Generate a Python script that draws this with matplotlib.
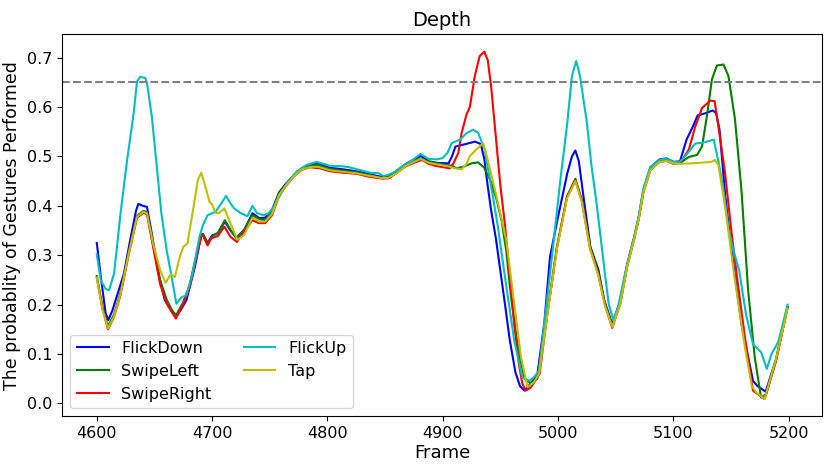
import matplotlib
matplotlib.use("Agg")
import matplotlib.pyplot as plt

# frame / probability samples, one pair of lists per gesture
flickdown_frame = [4600, 4603.5, 4607.7, 4610, 4613.5, 4619, 4623.5, 4629, 4634, 4636, 4640, 4643.5,
                   4647.7, 4653.5, 4659, 4665, 4668.6, 4673.5, 4677.7, 4685, 4690.6, 4692, 4696, 4700,
                   4705, 4711, 4716, 4721, 4728, 4735, 4741, 4746, 4752, 4758, 4764, 4771, 4778, 4786,
                   4791, 4802, 4813, 4825, 4833, 4842, 4849, 4853, 4860, 4868, 4876, 4881, 4888, 4895,
                   4905, 4908, 4911, 4918, 4928, 4933, 4936, 4939, 4942, 4946, 4954, 4958, 4963, 4967,
                   4971, 4976, 4982, 4988, 4993, 5000, 5008, 5012, 5015, 5018, 5022, 5028, 5035, 5040,
                   5047, 5054, 5060, 5066, 5070, 5074, 5080, 5088, 5094, 5100, 5105.7, 5111.4, 5117,
                   5121, 5128.6, 5134, 5137, 5140, 5145, 5150, 5159, 5169, 5173, 5180, 5189, 5199]
flickdown_prob = [0.325, 0.256, 0.182, 0.169, 0.188, 0.229, 0.263, 0.331, 0.39, 0.404, 0.40, 0.398,
                  0.344, 0.263, 0.209, 0.188, 0.175, 0.192, 0.209, 0.276, 0.341, 0.343, 0.325, 0.34,
                  0.345, 0.368, 0.35, 0.335, 0.352, 0.385, 0.375, 0.376, 0.392, 0.427, 0.445, 0.462,
                  0.476, 0.482, 0.486, 0.477, 0.474, 0.47, 0.466, 0.461, 0.458, 0.459, 0.47, 0.485,
                  0.495, 0.501, 0.49, 0.487, 0.486, 0.50, 0.52, 0.524, 0.53, 0.525, 0.495, 0.44, 0.39,
                  0.335, 0.2, 0.13, 0.063, 0.035, 0.026, 0.04, 0.058, 0.161, 0.297, 0.378, 0.466, 0.5,
                  0.512, 0.49, 0.419, 0.317, 0.27, 0.209, 0.16, 0.209, 0.283, 0.337, 0.378, 0.432,
                  0.478, 0.494, 0.496, 0.489, 0.49, 0.534, 0.561, 0.583, 0.588, 0.593, 0.588, 0.554,
                  0.419, 0.317, 0.161, 0.046, 0.035, 0.024, 0.09, 0.195]

swipeleft_frame = [4600, 4604.9, 4609.7, 4614.9, 4620.6, 4627.7, 4634.9, 4640.6, 4643.5, 4649, 4654.9,
                   4660.6, 4665, 4668.6, 4674.9, 4680.6, 4686.3, 4690.6, 4692, 4696, 4700, 4705, 4711,
                   4716, 4721.5, 4728, 4735, 4741, 4746, 4752, 4758, 4764, 4771, 4778, 4786, 4791, 4802,
                   4813, 4825, 4833, 4842, 4849, 4853, 4860, 4868, 4876, 4881, 4888, 4895, 4900, 4908,
                   4912, 4919, 4925, 4930.6, 4936, 4942, 4947, 4951, 4955, 4959, 4963, 4967, 4971, 4976,
                   4982, 4990.6, 4999, 5007.7, 5015, 5020.6, 5027.7, 5035, 5040.6, 5047, 5054, 5060,
                   5066, 5070, 5074, 5080, 5088, 5094, 5100, 5106, 5113.4, 5120.5, 5124.8, 5129, 5133.4,
                   5137.7, 5143.4, 5147.7, 5153.4, 5159, 5164.8, 5170.5, 5176, 5180.5, 5189, 5199]
swipeleft_prob = [0.258, 0.195, 0.156, 0.18, 0.224, 0.306, 0.38, 0.39, 0.387, 0.32, 0.25, 0.21, 0.19,
                  0.178, 0.205, 0.24, 0.3, 0.342, 0.343, 0.324, 0.338, 0.345, 0.371, 0.351, 0.334,
                  0.352, 0.381, 0.373, 0.371, 0.388, 0.425, 0.443, 0.462, 0.476, 0.481, 0.483, 0.475,
                  0.471, 0.468, 0.464, 0.459, 0.456, 0.457, 0.467, 0.482, 0.491, 0.496, 0.489, 0.486,
                  0.484, 0.481, 0.476, 0.48, 0.486, 0.488, 0.477, 0.448, 0.41, 0.37, 0.31, 0.22, 0.15,
                  0.09, 0.05, 0.041, 0.05, 0.182, 0.317, 0.419, 0.455, 0.412, 0.317, 0.263, 0.202,
                  0.157, 0.205, 0.28, 0.335, 0.376, 0.43, 0.474, 0.491, 0.493, 0.488, 0.487, 0.499,
                  0.503, 0.52, 0.581, 0.656, 0.684, 0.686, 0.663, 0.575, 0.432, 0.229, 0.094, 0.012,
                  0.019, 0.087, 0.195]

swiperight_frame = [4600, 4604.9, 4609.7, 4614.9, 4620.6, 4627.7, 4634.9, 4640.6, 4643.5, 4649, 4654.9,
                    4660.6, 4665, 4668.6, 4674.9, 4680.6, 4686.3, 4690.6, 4692, 4696, 4699.2, 4705,
                    4710.6, 4716, 4721.5, 4727.8, 4735, 4740.6, 4746, 4752, 4757.8, 4763.5, 4770.6,
                    4777.8, 4785, 4793.5, 4802, 4813.5, 4825, 4836, 4847.8, 4853.5, 4859, 4867.8, 4876,
                    4882, 4887.8, 4893.5, 4906, 4909, 4913.5, 4916.3, 4920.6, 4923.5, 4927.8, 4932, 4936,
                    4939, 4942, 4946, 4950, 4954, 4958, 4962, 4966, 4969, 4972, 4976, 4980, 4984, 4990.6,
                    4999, 5007.7, 5015, 5020.6, 5027.7, 5035, 5040.6, 5047, 5054, 5060, 5066, 5070, 5074,
                    5080, 5088, 5094, 5100, 5106, 5113.4, 5119, 5124.8, 5132, 5135.7, 5139, 5144.8,
                    5150.5, 5156, 5162, 5169, 5179, 5189, 5199]
swiperight_prob = [0.255, 0.193, 0.15, 0.175, 0.22, 0.302, 0.376, 0.386, 0.383, 0.315, 0.242, 0.202,
                   0.185, 0.172, 0.202, 0.236, 0.297, 0.338, 0.34, 0.32, 0.334, 0.339, 0.358, 0.337,
                   0.327, 0.348, 0.371, 0.365, 0.365, 0.381, 0.419, 0.439, 0.459, 0.473, 0.478, 0.476,
                   0.47, 0.467, 0.465, 0.459, 0.455, 0.456, 0.465, 0.48, 0.488, 0.493, 0.485, 0.481,
                   0.476, 0.485, 0.507, 0.547, 0.585, 0.60, 0.663, 0.703, 0.712, 0.695, 0.64, 0.54,
                   0.44, 0.36, 0.26, 0.16, 0.08, 0.04, 0.026, 0.032, 0.045, 0.06, 0.18, 0.315, 0.417,
                   0.452, 0.41, 0.315, 0.26, 0.2, 0.153, 0.203, 0.278, 0.333, 0.374, 0.428, 0.472,
                   0.489, 0.491, 0.485, 0.487, 0.514, 0.561, 0.598, 0.613, 0.612, 0.561, 0.466, 0.344,
                   0.24, 0.134, 0.026, 0.009, 0.087, 0.195]

flickup_frame = [4600, 4603.5, 4607.7, 4610.6, 4615, 4620.6, 4626.3, 4632, 4634.9, 4637.7, 4642, 4643.5,
                 4647.7, 4652, 4656, 4660.6, 4664.9, 4669, 4673.5, 4677.7, 4683, 4689, 4692, 4696, 4703,
                 4708, 4712, 4716, 4719, 4725, 4730.6, 4735, 4739, 4745, 4749, 4753.5, 4759, 4765,
                 4773.5, 4782, 4790.6, 4802, 4813.5, 4819, 4830.6, 4839, 4843.5, 4849, 4856.3, 4865,
                 4873.5, 4880.6, 4887.8, 4895, 4900, 4904, 4907.8, 4915, 4920.6, 4926.3, 4930.6, 4936.4,
                 4942, 4947.8, 4953.5, 4962, 4969, 4975, 4979, 4983.5, 4988, 4995, 5002, 5008, 5012,
                 5015.7, 5019, 5025, 5029, 5033.4, 5040.6, 5044, 5048, 5052, 5058, 5066, 5070, 5074,
                 5080, 5088, 5094, 5100, 5105, 5110, 5119, 5126, 5135, 5139, 5143, 5148, 5152, 5157,
                 5163, 5169, 5176, 5181, 5185, 5191, 5199]
flickup_prob = [0.302, 0.249, 0.232, 0.229, 0.263, 0.385, 0.493, 0.588, 0.652, 0.661, 0.659, 0.649,
                0.581, 0.48, 0.385, 0.31, 0.256, 0.202, 0.215, 0.219, 0.263, 0.337, 0.361, 0.381,
                0.388, 0.405, 0.42, 0.405, 0.395, 0.385, 0.379, 0.40, 0.385, 0.381, 0.385, 0.398,
                0.422, 0.446, 0.47, 0.483, 0.489, 0.481, 0.48, 0.478, 0.471, 0.466, 0.467, 0.46,
                0.466, 0.48, 0.492, 0.505, 0.495, 0.494, 0.497, 0.507, 0.527, 0.534, 0.547, 0.554,
                0.548, 0.514, 0.439, 0.358, 0.263, 0.127, 0.053, 0.046, 0.053, 0.066, 0.161, 0.304,
                0.453, 0.568, 0.663, 0.693, 0.663, 0.568, 0.48, 0.405, 0.263, 0.2, 0.168, 0.195,
                0.263, 0.337, 0.38, 0.436, 0.478, 0.493, 0.496, 0.489, 0.488, 0.5, 0.526, 0.528,
                0.534, 0.49, 0.44, 0.35, 0.31, 0.27, 0.18, 0.12, 0.104, 0.07, 0.1, 0.125, 0.2]

tap_frame = [4600, 4604.9, 4609.7, 4614.9, 4620.6, 4627.7, 4634.9, 4640.6, 4643.5, 4649, 4654.9, 4659.7,
             4664, 4667.7, 4672, 4675, 4678.6, 4683, 4687.7, 4690.6, 4695, 4697.7, 4699.7, 4703, 4706,
             4710.6, 4716, 4722, 4727.7, 4735, 4741, 4746, 4752, 4758, 4764, 4771, 4778, 4786, 4792,
             4802, 4813, 4825, 4836, 4848, 4853, 4860, 4868, 4876, 4881, 4888, 4895, 4905, 4910.6,
             4916.3, 4920.6, 4923.5, 4929, 4935, 4939, 4946, 4955, 4962, 4967.8, 4973.5, 4979, 4983.5,
             4990.6, 4999, 5007.7, 5015, 5020.6, 5027.7, 5035, 5040.6, 5047, 5054, 5060, 5066, 5070,
             5074, 5080, 5088, 5094, 5100, 5105, 5116, 5128, 5133, 5136, 5139, 5144.8, 5153.4, 5162,
             5168, 5172, 5179, 5189, 5199]
tap_prob = [0.255, 0.19, 0.152, 0.176, 0.222, 0.304, 0.378, 0.388, 0.385, 0.322, 0.27, 0.244, 0.262,
            0.256, 0.297, 0.317, 0.324, 0.385, 0.453, 0.467, 0.432, 0.408, 0.404, 0.386, 0.385, 0.395,
            0.364, 0.331, 0.341, 0.376, 0.368, 0.368, 0.384, 0.422, 0.441, 0.46, 0.474, 0.479, 0.479,
            0.472, 0.469, 0.466, 0.461, 0.456, 0.457, 0.466, 0.481, 0.49, 0.495, 0.487, 0.484, 0.48,
            0.476, 0.474, 0.485, 0.501, 0.514, 0.527, 0.493, 0.425, 0.331, 0.202, 0.094, 0.033,
            0.043, 0.06, 0.178, 0.313, 0.415, 0.45, 0.408, 0.313, 0.258, 0.198, 0.155, 0.202, 0.278,
            0.333, 0.374, 0.428, 0.472, 0.489, 0.491, 0.486, 0.485, 0.486, 0.488, 0.489, 0.493,
            0.483, 0.398, 0.249, 0.114, 0.035, 0.022, 0.009, 0.09, 0.192]

threshold = 0.65

series = [
    ("FlickDown", flickdown_frame, flickdown_prob, "b"),
    ("SwipeLeft", swipeleft_frame, swipeleft_prob, "g"),
    ("SwipeRight", swiperight_frame, swiperight_prob, "r"),
    ("FlickUp", flickup_frame, flickup_prob, "c"),
    ("Tap", tap_frame, tap_prob, "y"),
]

fig = plt.figure(figsize=(8.3, 4.7), dpi=100)
ax = fig.add_axes([0.075, 0.114, 0.9155, 0.813])

for name, xs, ys, col in series:
    ax.plot(xs, ys, color=col, linewidth=1.5, label=name)

ax.axhline(threshold, color="gray", linestyle="--", linewidth=1.5)

ax.set_title("Depth", fontsize=14)
ax.set_xlabel("Frame", fontsize=13, labelpad=2)
ax.set_ylabel("The probablity of Gestures Performed", fontsize=12.5)
ax.tick_params(labelsize=11.5)
ax.legend(loc="lower left", ncol=2, fontsize=11.5)

fig.savefig("out.png", dpi=100)
